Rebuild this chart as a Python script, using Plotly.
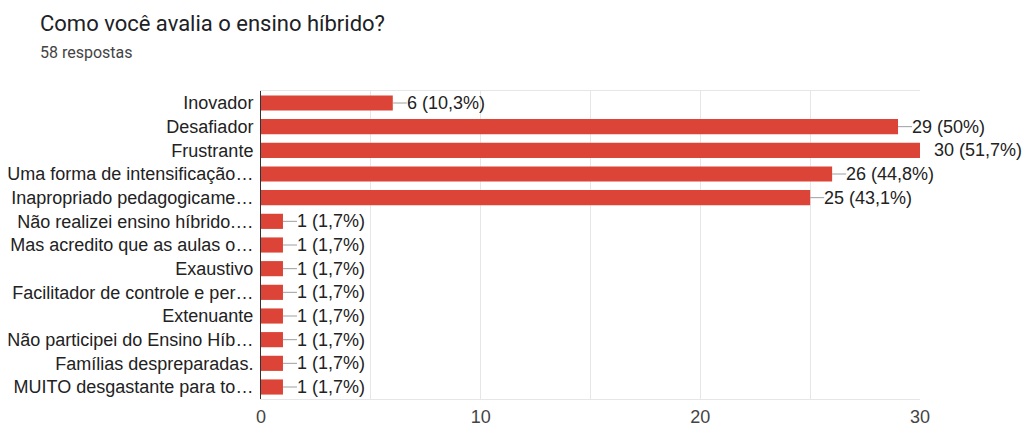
import plotly.graph_objects as go

categories = [
    "Inovador",
    "Desafiador",
    "Frustrante",
    "Uma forma de intensificação…",
    "Inapropriado pedagogicame…",
    "Não realizei ensino híbrido.…",
    "Mas acredito que as aulas o…",
    "Exaustivo",
    "Facilitador de controle e per…",
    "Extenuante",
    "Não participei do Ensino Híb…",
    "Famílias despreparadas.",
    "MUITO desgastante para to…",
]
counts = [6, 29, 30, 26, 25, 1, 1, 1, 1, 1, 1, 1, 1]
percents = ["10,3%", "50%", "51,7%", "44,8%", "43,1%",
            "1,7%", "1,7%", "1,7%", "1,7%", "1,7%", "1,7%", "1,7%", "1,7%"]
x_ticks = [0, 10, 20, 30]

BAR_RED = "#db4437"
TEXT = "#222222"
GRID = "#e6e6e6"
FONT = "Liberation Sans, Arial, sans-serif"

fig = go.Figure(
    go.Bar(
        x=counts,
        y=categories,
        orientation="h",
        width=0.64,
        marker=dict(color=BAR_RED, line=dict(width=0)),
        hoverinfo="skip",
    )
)

# leader lines and value labels next to each bar
for cat, n, pct in zip(categories, counts, percents):
    fig.add_shape(
        type="line",
        xref="x", yref="y",
        xsizemode="pixel", xanchor=n,
        x0=0, x1=14, y0=cat, y1=cat,
        line=dict(color="#9e9e9e", width=1),
        layer="above",
    )
    fig.add_annotation(
        x=n, y=cat, xref="x", yref="y",
        text=f"{n} ({pct})",
        showarrow=False,
        xanchor="left", yanchor="middle",
        xshift=12,
        font=dict(family=FONT, size=18, color=TEXT),
    )

# title and response count
fig.add_annotation(
    xref="paper", yref="paper", x=0, y=1, xshift=-223, yshift=68,
    xanchor="left", yanchor="middle", showarrow=False,
    text="Como você avalia o ensino híbrido?",
    font=dict(family="Roboto, Arial, sans-serif", size=22, color="#202124"),
)
fig.add_annotation(
    xref="paper", yref="paper", x=0, y=1, xshift=-223, yshift=39,
    xanchor="left", yanchor="middle", showarrow=False,
    text="58 respostas",
    font=dict(family="Roboto, Arial, sans-serif", size=16, color="#444444"),
)

fig.update_layout(
    width=1026, height=425,
    margin=dict(l=261, r=106, t=91, b=26, autoexpand=False),
    paper_bgcolor="white", plot_bgcolor="white",
    showlegend=False,
    xaxis=dict(
        range=[0, 30], tickvals=x_ticks,
        showgrid=True, gridcolor=GRID, gridwidth=1,
        zeroline=False,
        showline=True, mirror=True, linecolor=GRID, linewidth=1,
        tickfont=dict(family=FONT, size=18, color="#444444"),
        ticks="", ticklabelstandoff=1,
        automargin=False,
        fixedrange=True,
        minor=dict(dtick=5, tick0=0, showgrid=True, gridcolor=GRID, gridwidth=1, ticks=""),
    ),
    yaxis=dict(
        autorange="reversed",
        showgrid=False, zeroline=False,
        showline=True, linecolor="#333333", linewidth=1,
        ticks="", ticklabelstandoff=3,
        tickfont=dict(family=FONT, size=18, color=TEXT),
        automargin=False,
        fixedrange=True,
    ),
)

fig.write_html("out.html")
